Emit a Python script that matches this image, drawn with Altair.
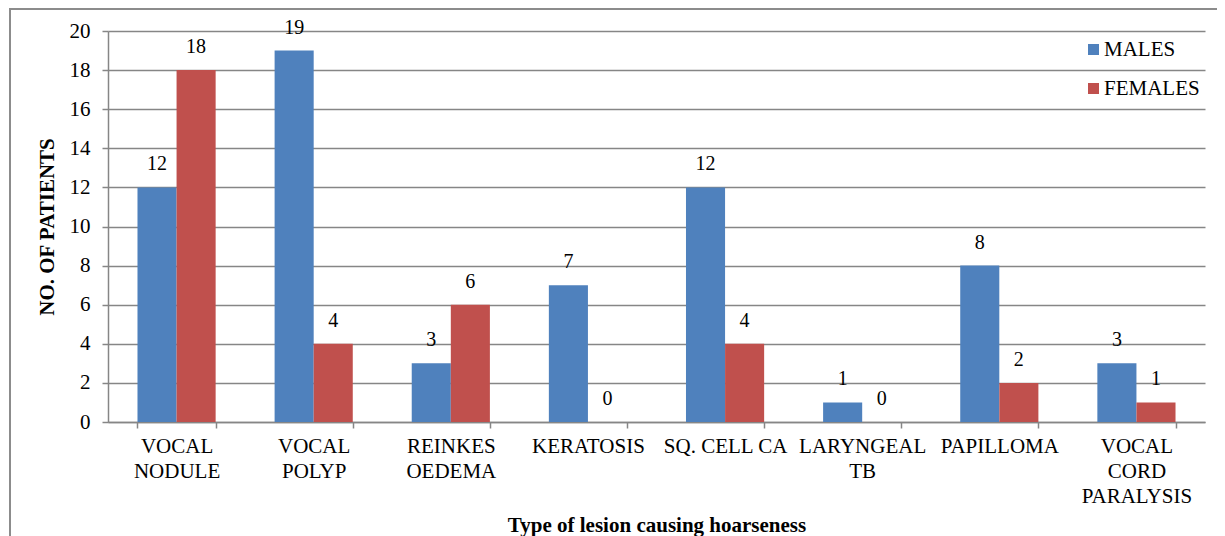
import altair as alt
import pandas as pd

categories = ["VOCAL|NODULE", "VOCAL|POLYP", "REINKES|OEDEMA", "KERATOSIS",
              "SQ. CELL CA", "LARYNGEAL|TB", "PAPILLOMA", "VOCAL|CORD|PARALYSIS"]
males = [12, 19, 3, 7, 12, 1, 8, 3]
females = [18, 4, 6, 0, 4, 0, 2, 1]
series = ["MALES", "FEMALES"]
colors = ["#4F81BD", "#C0504D"]
y_ticks = list(range(0, 21, 2))

rows = []
for c, m, f in zip(categories, males, females):
    rows.append({"lesion": c, "sex": series[0], "count": m})
    rows.append({"lesion": c, "sex": series[1], "count": f})
df = pd.DataFrame(rows)

FONT = "'Liberation Serif', 'Times New Roman', Times, serif"
GREY = "#868686"

x_enc = alt.X(
    "lesion:N", sort=categories,
    scale=alt.Scale(paddingInner=0.43, paddingOuter=0.215),
    axis=alt.Axis(
        title="Type of lesion causing hoarseness", labelAngle=0,
        labelExpr="split(datum.label, '|')", labelOverlap=False, labelLimit=300,
        tickBand="extent", tickSize=6, tickColor=GREY, domainColor=GREY,
        domainWidth=1.5, tickWidth=1.5,
        labelFont=FONT, labelFontSize=21, labelLineHeight=25, labelPadding=7,
        labelColor="black", titleFont=FONT, titleFontSize=21,
        titleFontWeight="bold", titleColor="black", titlePadding=8, grid=False,
    ),
)
xoff = alt.XOffset("sex:N", sort=series, scale=alt.Scale(paddingInner=0, paddingOuter=0))
y_enc = alt.Y(
    "count:Q", scale=alt.Scale(domain=[0, 20], nice=False),
    axis=alt.Axis(
        title="NO. OF PATIENTS", values=y_ticks, grid=True, gridColor=GREY,
        gridWidth=1.5, domainColor=GREY, domainWidth=1.5, tickColor=GREY,
        tickWidth=1.5, tickSize=6, labelFont=FONT, labelFontSize=21,
        labelPadding=12, labelColor="black", titleFont=FONT, titleFontSize=21,
        titleFontWeight="bold", titleColor="black", titlePadding=12,
    ),
)

bars = alt.Chart(df).mark_bar().encode(
    x=x_enc, xOffset=xoff, y=y_enc,
    color=alt.Color(
        "sex:N", sort=series,
        scale=alt.Scale(domain=series, range=colors),
        legend=alt.Legend(
            title=None, orient="none", legendX=975, legendY=8,
            symbolType="square", symbolSize=121, symbolStrokeWidth=0,
            labelFont=FONT, labelFontSize=21, labelColor="black",
            rowPadding=17, labelOffset=0,
        ),
    ),
)

labels = alt.Chart(df).mark_text(
    dy=-17, baseline="alphabetic", font=FONT, fontSize=20, color="black"
).encode(x=x_enc, xOffset=xoff, y=y_enc, text="count:Q")

frame = alt.Chart(alt.Data(values=[{"f": 1}])).mark_rect(
    fillOpacity=0, stroke="#8c8c8c", strokeWidth=2
).encode(
    x=alt.value(-98), x2=alt.value(1200), y=alt.value(-22), y2=alt.value(700)
)

chart = alt.layer(frame, bars, labels).properties(
    width=1097, height=391,
    autosize=alt.AutoSizeParams(type="none"),
    padding={"left": 100, "top": 23, "right": 12, "bottom": 114},
    background="white",
).configure_view(strokeWidth=0)

chart.save("out.html", embed_options={"renderer": "svg", "actions": False})
